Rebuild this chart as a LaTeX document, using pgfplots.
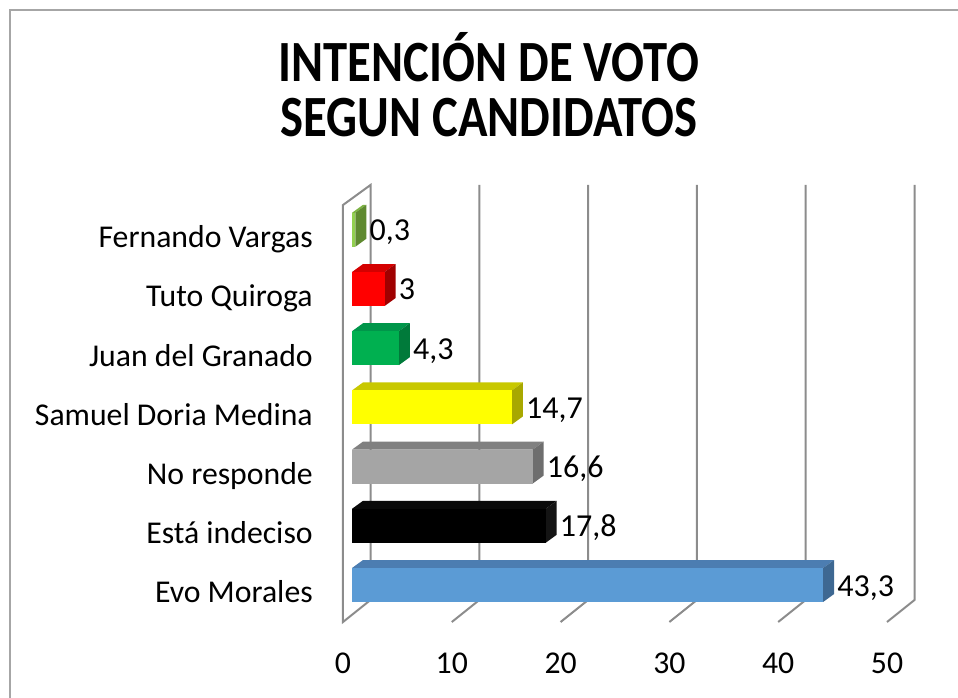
\documentclass[border=0pt]{standalone}
\usepackage{fontspec}
\setmainfont{Carlito}
\usepackage{pgfplots}
\pgfplotsset{compat=1.18}
\definecolor{gridc}{HTML}{8C8C8C}
\definecolor{frameC}{HTML}{A6A6A6}
\definecolor{evoF}{HTML}{5B9BD5}\definecolor{evoT}{HTML}{4C7DB1}\definecolor{evoS}{HTML}{3E6892}
\definecolor{indF}{HTML}{000000}\definecolor{indT}{HTML}{0A0A0A}\definecolor{indS}{HTML}{141414}
\definecolor{nrF}{HTML}{A5A5A5}\definecolor{nrT}{HTML}{808080}\definecolor{nrS}{HTML}{6E6E6E}
\definecolor{samF}{HTML}{FFFF00}\definecolor{samT}{HTML}{C8C800}\definecolor{samS}{HTML}{A8A800}
\definecolor{juaF}{HTML}{00B050}\definecolor{juaT}{HTML}{00964A}\definecolor{juaS}{HTML}{007A3A}
\definecolor{tutF}{HTML}{FF0000}\definecolor{tutT}{HTML}{D40000}\definecolor{tutS}{HTML}{A00000}
\definecolor{ferF}{HTML}{92D050}\definecolor{ferT}{HTML}{7CB342}\definecolor{ferS}{HTML}{5F8A30}
\pgfplotsset{
  frontbar/.style={xbar, bar shift=0pt, bar width=0.574, draw=none, fill=#1,
    nodes near coords, point meta=x,
    every node near coord/.append style={anchor=base west, inner sep=0pt, xshift=10.5pt, yshift=-8.25pt,
      font=\fontsize{24}{28}\selectfont, text=black}},
  face/.style={fill=#1, draw=none},
}
\begin{document}
\begin{tikzpicture}[x=0.75pt,y=-0.75pt]
\useasboundingbox (0,0) rectangle (958,698);
\draw[frameC, line width=1.5pt] (10,698) -- (10,10) -- (958,10);
\node[font=\bfseries\fontsize{36.5}{44}\selectfont, anchor=base, inner sep=0pt] at (489,82) {\scalebox{1}[1.2]{INTENCIÓN DE VOTO}};
\node[font=\bfseries\fontsize{36.5}{44}\selectfont, anchor=base, inner sep=0pt] at (489,137) {\scalebox{1}[1.2]{SEGUN CANDIDATOS}};
\begin{axis}[
  at={(257.25pt,-466.5pt)}, anchor=south west,
  x=8.16pt, y=44.4pt,
  xmin=-0.83, xmax=55, ymin=-0.625, ymax=6.9,
  clip=false,
  axis line style={draw=none},
  tick style={draw=none},
  xtick={0,10,...,50}, ytick={0,...,6},
  yticklabels={Evo Morales, Está indeciso, No responde, Samuel Doria Medina, Juan del Granado, Tuto Quiroga, Fernando Vargas},
  tick label style={font=\fontsize{23.8}{28}\selectfont, inner sep=0pt},
  yticklabel style={anchor=base east, xshift=-22.5pt, yshift=-13.5pt},
  xticklabel style={anchor=base, xshift=-6.77pt, yshift=-38.5pt},
  /pgf/number format/use comma,
  /pgf/number format/1000 sep={},
  /pgf/number format/assume math mode=true,
]
% walls and gridlines
\addplot[gridc, line width=1.5pt, unbounded coords=jump, mark=none] coordinates {
(1.7,-0.253) (-0.83,-0.625) (-0.83,6.419) (1.7,6.757) (1.7,-0.253)
(nan,nan)
(11.7,6.757) (11.7,-0.253) (9.17,-0.625)
(nan,nan)
(21.7,6.757) (21.7,-0.253) (19.17,-0.625)
(nan,nan)
(31.7,6.757) (31.7,-0.253) (29.17,-0.625)
(nan,nan)
(41.7,6.757) (41.7,-0.253) (39.17,-0.625)
(nan,nan)
(51.7,6.757) (51.7,-0.253) (49.17,-0.625)
};
% Evo Morales
\addplot[face=evoT] coordinates {(0,0.287) (43.3,0.287) (44.31,0.422) (1.01,0.422)} -- cycle;
\addplot[face=evoS] coordinates {(43.3,-0.287) (43.3,0.287) (44.31,0.422) (44.31,-0.152)} -- cycle;
\addplot[frontbar=evoF] coordinates {(43.3,0)};
% Esta indeciso
\addplot[face=indT] coordinates {(0,1.287) (17.8,1.287) (18.81,1.422) (1.01,1.422)} -- cycle;
\addplot[face=indS] coordinates {(17.8,0.713) (17.8,1.287) (18.81,1.422) (18.81,0.848)} -- cycle;
\addplot[frontbar=indF] coordinates {(17.8,1)};
% No responde
\addplot[face=nrT] coordinates {(0,2.287) (16.6,2.287) (17.61,2.422) (1.01,2.422)} -- cycle;
\addplot[face=nrS] coordinates {(16.6,1.713) (16.6,2.287) (17.61,2.422) (17.61,1.848)} -- cycle;
\addplot[frontbar=nrF] coordinates {(16.6,2)};
% Samuel Doria Medina
\addplot[face=samT] coordinates {(0,3.287) (14.7,3.287) (15.71,3.422) (1.01,3.422)} -- cycle;
\addplot[face=samS] coordinates {(14.7,2.713) (14.7,3.287) (15.71,3.422) (15.71,2.848)} -- cycle;
\addplot[frontbar=samF] coordinates {(14.7,3)};
% Juan del Granado
\addplot[face=juaT] coordinates {(0,4.287) (4.3,4.287) (5.31,4.422) (1.01,4.422)} -- cycle;
\addplot[face=juaS] coordinates {(4.3,3.713) (4.3,4.287) (5.31,4.422) (5.31,3.848)} -- cycle;
\addplot[frontbar=juaF] coordinates {(4.3,4)};
% Tuto Quiroga
\addplot[face=tutT] coordinates {(0,5.287) (3,5.287) (4.01,5.422) (1.01,5.422)} -- cycle;
\addplot[face=tutS] coordinates {(3,4.713) (3,5.287) (4.01,5.422) (4.01,4.848)} -- cycle;
\addplot[frontbar=tutF] coordinates {(3,5)};
% Fernando Vargas
\addplot[face=ferT] coordinates {(0,6.287) (0.3,6.287) (1.31,6.422) (1.01,6.422)} -- cycle;
\addplot[face=ferS] coordinates {(0.3,5.713) (0.3,6.287) (1.31,6.422) (1.31,5.848)} -- cycle;
\addplot[frontbar=ferF] coordinates {(0.3,6)};
\end{axis}
\end{tikzpicture}
\end{document}
